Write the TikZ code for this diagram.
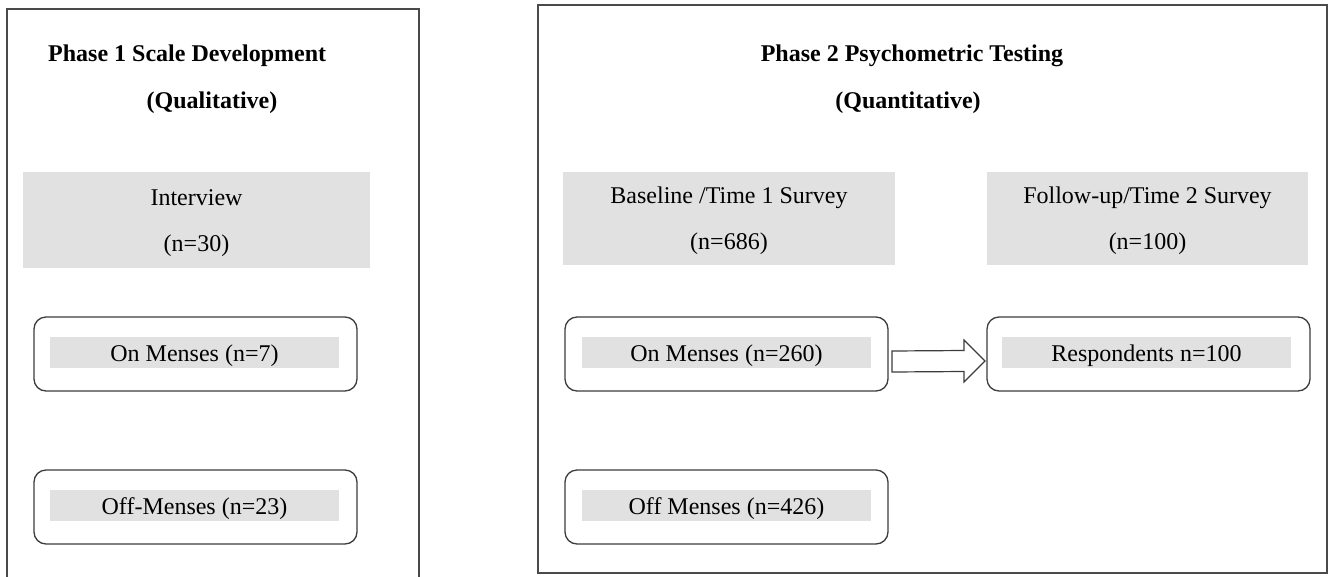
\documentclass[tikz,border=0pt]{standalone}
\usepackage{fontspec}
\setmainfont{Liberation Serif}
\usetikzlibrary{calc}
\definecolor{panelline}{HTML}{4A4A4A}
\definecolor{boxline}{HTML}{3C3C3C}
\definecolor{greyfill}{HTML}{E1E1E1}
\tikzset{
  panel/.style={draw=panelline, line width=1.5pt},
  title/.style={font=\fontsize{24}{29}\selectfont\bfseries, inner sep=0pt,
    text height=17pt, text depth=0pt},
  greybox/.style={fill=greyfill, inner sep=0pt, outer sep=0pt, align=center,
    font=\fontsize{24}{46}\selectfont},
  roundbox/.style={draw=boxline, line width=1.3pt, rounded corners=12pt,
    inner sep=0pt, outer sep=0pt, minimum width=323pt, minimum height=74pt},
  strip/.style={fill=greyfill, inner sep=0pt, outer sep=0pt, minimum width=289pt,
    minimum height=31pt, font=\fontsize{24}{29}\selectfont,
    text height=17pt, text depth=0pt},
  blockarrow/.style={draw=boxline, line width=1.2pt, fill=white, line join=miter}
}
\newcommand{\topstrut}{\rule{0pt}{22pt}}
\begin{document}
\begin{tikzpicture}[x=1pt,y=-1pt]
\useasboundingbox[fill=white] (0,0) rectangle (1336,576);

% panels
\draw[panel] (7,577) -- (7,9) -- (419,9) -- (419,577);
\draw[panel] (538,5) rectangle (1327,573);

% titles
\node[title, anchor=west] (t1) at (48,53) {Phase 1 Scale Development};
\node[title] (t1b) at (212,100) {(Qualitative)};
\node[title] (t2) at (912,53) {Phase 2 Psychometric Testing};
\node[title] (t2b) at (908,100) {(Quantitative)};

% grey header boxes
\node[greybox, minimum width=347pt, minimum height=96pt] (interview) at (196.5,220) {\topstrut Interview\\(n=30)};
\node[greybox, minimum width=332pt, minimum height=93pt] (baseline) at (729,218.5) {\topstrut Baseline /Time 1 Survey\\(n=686)};
\node[greybox, minimum width=321pt, minimum height=93pt] (followup) at (1147.5,218.5) {\topstrut Follow-up/Time 2 Survey\\(n=100)};

% rounded boxes
\node[roundbox] (onL) at (195.5,354) {};
\node[strip] (onLt) at (194.5,352.5) {On Menses (n=7)};
\node[roundbox] (offL) at (195.5,507) {};
\node[strip] (offLt) at (194.5,505.5) {Off-Menses (n=23)};

\node[roundbox] (onR) at (726.5,354) {};
\node[strip] (onRt) at (726.5,352.5) {On Menses (n=260)};
\node[roundbox] (offR) at (726.5,507) {};
\node[strip] (offRt) at (726.5,505.5) {Off Menses (n=426)};

\node[roundbox] (resp) at (1148.5,354) {};
\node[strip] (respt) at (1146.5,352.5) {Respondents n=100};

% block arrow from onR to resp
\coordinate (aS) at ($(onR.east)+(4,7.5)$);
\coordinate (aT) at ($(resp.west)+(-2,7)$);
\draw[blockarrow] ($(aS)+(0,-10.5)$) -- ($(aT)+(-21,-10.5)$) -- ($(aT)+(-21,-21)$)
  -- (aT) -- ($(aT)+(-21,21)$) -- ($(aT)+(-21,10.5)$) -- ($(aS)+(0,10.5)$) -- cycle;
\end{tikzpicture}
\end{document}
